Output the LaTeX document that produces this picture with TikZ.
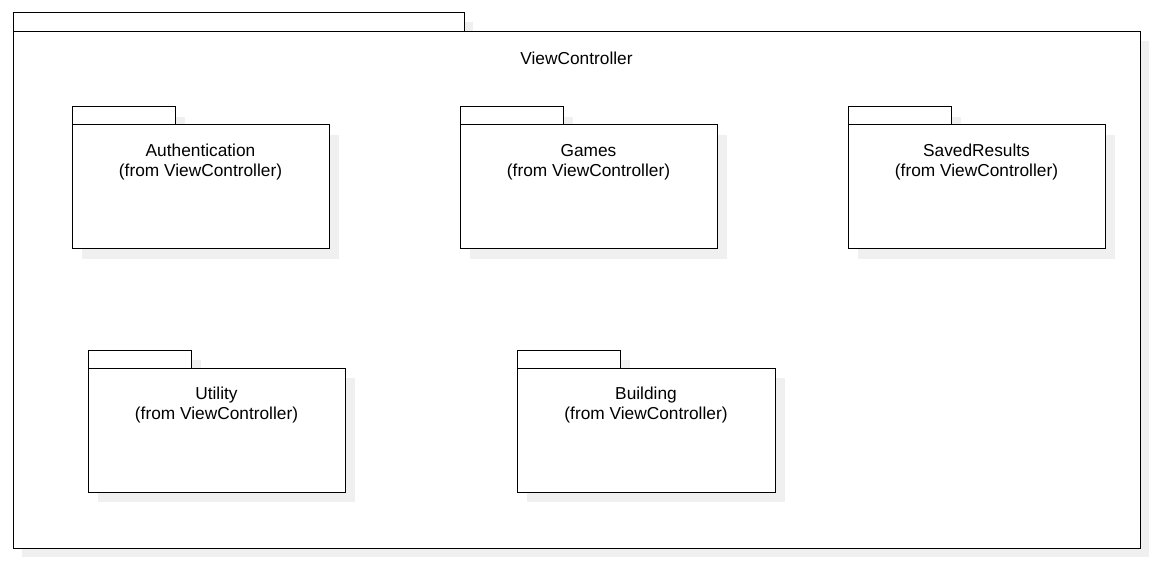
\documentclass[tikz,border=0pt]{standalone}
\usepackage{fontspec}
\setmainfont{Liberation Sans}
\definecolor{shadowgray}{RGB}{240,240,240}
\tikzset{
  pkgbox/.style={draw=black, line width=1pt, fill=white, anchor=north west, inner sep=0pt, outer sep=0pt},
  pkgshadow/.style={fill=shadowgray, draw=none, anchor=north west, inner sep=0pt, outer sep=0pt},
  pkglabel/.style={align=center, font=\fontsize{17.3}{20}\selectfont, inner sep=0pt, text=black},
}
\begin{document}
\begin{tikzpicture}[x=1pt,y=-1pt]
\useasboundingbox (0,0) rectangle (1153,561);
% outer package
\node[pkgshadow, minimum width=451pt, minimum height=19pt] (outtabsh) at (22,22) {};
\node[pkgshadow, minimum width=1127pt, minimum height=516pt] (outsh) at (22,41) {};
\node[pkgbox, minimum width=451pt, minimum height=19pt] (outtab) at (13,13) {};
\node[pkgbox, minimum width=1127pt, minimum height=516pt] (outer) at (13,32) {};
\node[pkglabel] (outlbl) at (576.5,58) {ViewController};
% inner packages
\foreach \name/\x/\y/\w/\txt in {auth/72/125/257/Authentication, games/460/125/257/Games, saved/848/125/257/SavedResults, util/88/368/257/Utility, build/517/368/258/Building}{
  \node[pkgshadow, minimum width=103pt, minimum height=18pt] (\name tabsh) at (\x+10,\y-8) {};
  \node[pkgshadow, minimum width=\w pt, minimum height=124pt] (\name sh) at (\x+10,\y+10) {};
  \node[pkgbox, minimum width=103pt, minimum height=18pt] (\name tab) at (\x,\y-18) {};
  \node[pkgbox, minimum width=\w pt, minimum height=124pt] (\name) at (\x,\y) {};
  \node[pkglabel] (\name lbl) at (\x+\w/2,\y+37.5) {\txt\\(from ViewController)};
}
\end{tikzpicture}
\end{document}
